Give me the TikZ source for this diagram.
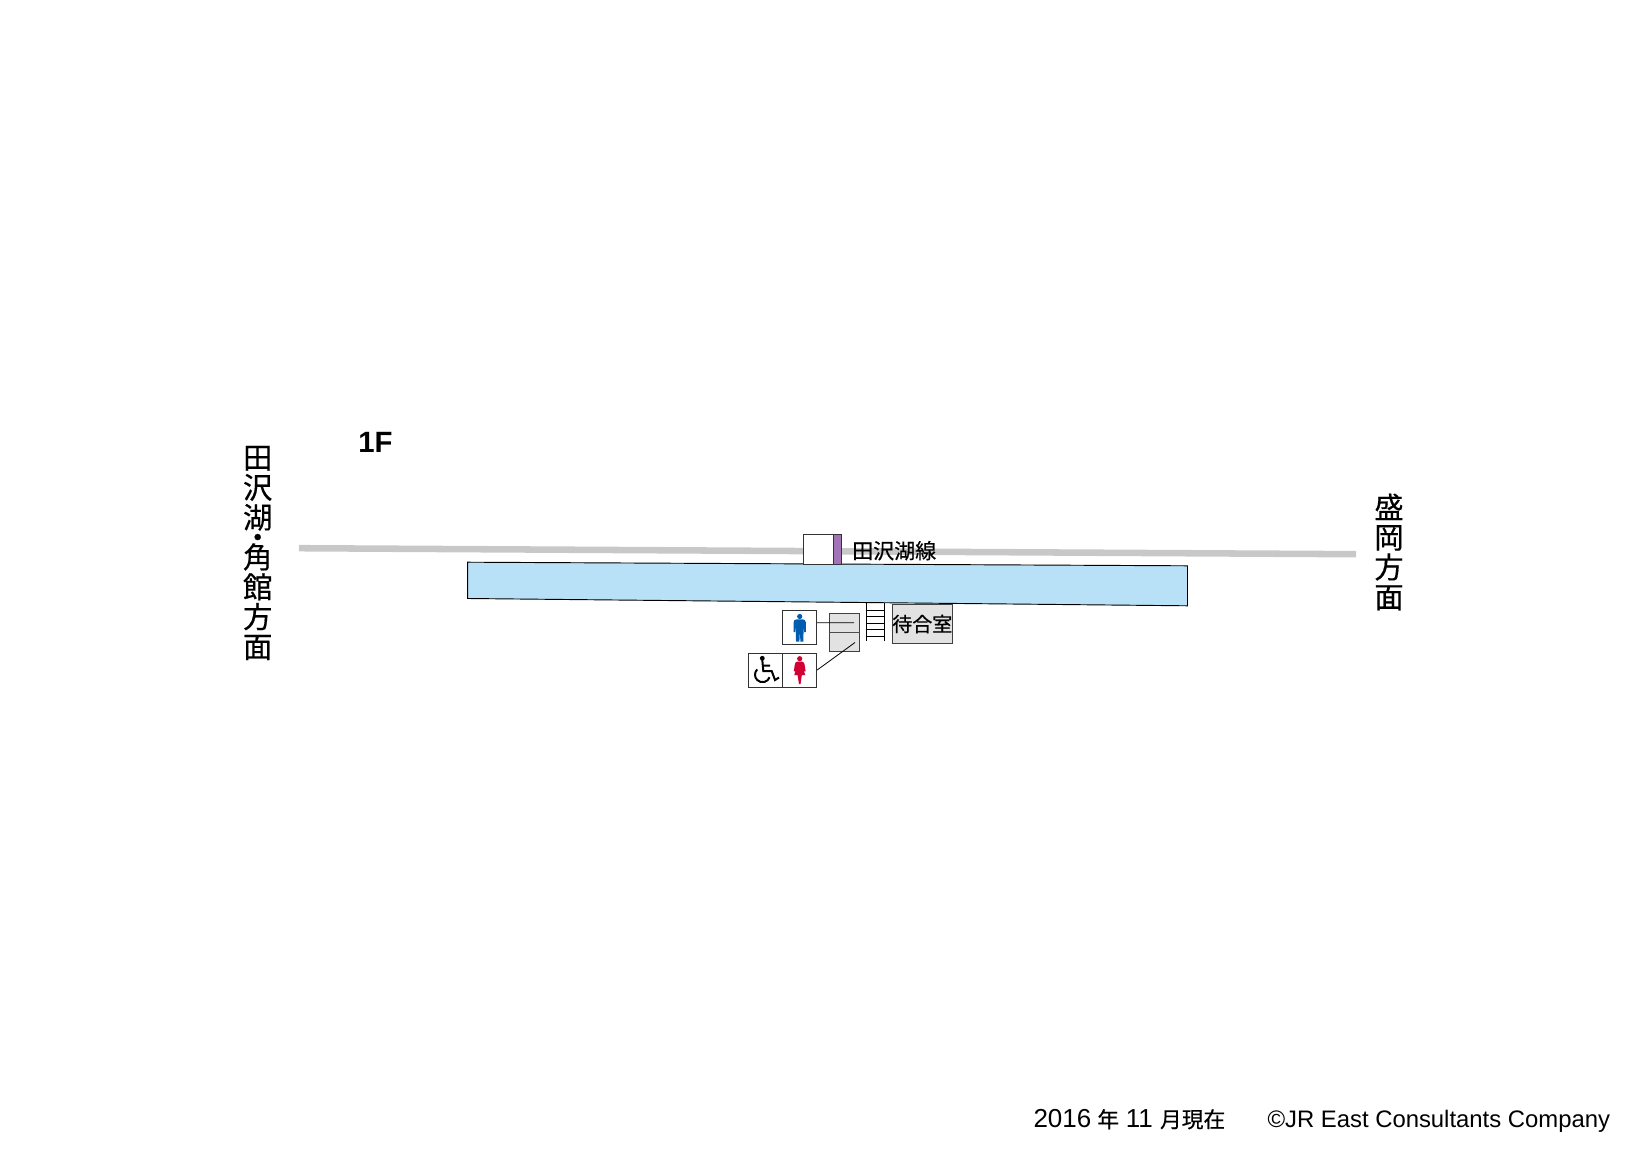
\documentclass[tikz,border=0pt]{standalone}
\usepackage{fontspec}
\setmainfont{Liberation Sans}
\newfontfamily\jpfont[FakeBold=0.5]{Noto Sans CJK JP}
\definecolor{trackgray}{RGB}{200,200,200}
\definecolor{platblue}{RGB}{184,225,247}
\definecolor{roomgray}{RGB}{226,226,226}
\definecolor{gatepurple}{RGB}{160,116,182}
\definecolor{menblue}{RGB}{0,92,175}
\definecolor{womenred}{RGB}{208,0,50}
\AtBeginDocument{\setlength{\lineskiplimit}{-20pt}}
\tikzset{every picture/.style={line width=0.75pt}}
\tikzset{
  roombox/.style={draw=black!75,fill=roomgray,line width=0.6pt},
  iconbox/.style={draw=black!80,fill=white,line width=0.7pt},
  leader/.style={draw=black,line width=0.6pt},
  jptext/.style={inner sep=0pt,font=\jpfont\fontsize{15}{16}\selectfont},
  dirtext/.style={inner sep=0pt,align=center,font=\jpfont\fontsize{22}{22.4}\selectfont},
  foottext/.style={inner sep=0pt,anchor=base west,font=\fontsize{17.9}{20}\selectfont},
}
\begin{document}
\begin{tikzpicture}[x=0.75pt,y=0.75pt,yscale=-1,xscale=1]
\useasboundingbox (0,0) rectangle (1642,1162);

%track
\draw [trackgray,line width=4.9pt] (299,548.2) -- (1356,554.2) ;
%platform
\draw [draw=black,fill=platblue,line width=0.7pt] (467.7,562.2) -- (1187.5,565.8) -- (1187.5,605.8) -- (467.7,598.5) -- cycle ;
%gate
\draw [draw=black!80,fill=white,line width=0.6pt] (803.3,534) rectangle (833,564) ;
\draw [draw=black!80,fill=gatepurple,line width=0.6pt] (833,534) rectangle (841,564) ;
%stairs
\draw [leader] (866.7,603) -- (866.7,641) (884,603) -- (884,641) ;
\foreach \y in {610,616.5,623,629.5,636} {
  \draw [leader] (866.7,\y) -- (884,\y) ;
}
%waiting room
\node (room) [roombox,minimum width=45pt,minimum height=29pt,inner sep=0pt] at (922.3,624) {};
\node (roomlabel) [jptext] at (922.3,624) {待合室};
%toilet
\node (toilet) [roombox,minimum width=22.5pt,minimum height=29pt,inner sep=0pt] at (844.3,632.3) {};
\draw [black!70,line width=0.8pt] (toilet.west) -- (toilet.east) ;
\coordinate (menend) at (854,622.8);
\coordinate (womenend) at (855,642.5);
%icon boxes
\node (men) [iconbox,minimum size=25.5pt,inner sep=0pt] at (799.7,627.5) {};
\node (women) [iconbox,minimum size=25.5pt,inner sep=0pt] at (799.7,670) {};
\node (wheel) [iconbox,minimum size=25.5pt,inner sep=0pt] at (765.7,670) {};
\draw [leader] (men.east) ++(0,-4.7) -- (menend) ;
\draw [leader] (women.east) -- (womenend) ;
%men icon
\fill [menblue] (799.7,616.5) circle (2.6) ;
\fill [menblue] (793.5,622.5) .. controls (793.5,620.3) and (795,619.3) .. (797,619.3) -- (802.4,619.3) .. controls (804.4,619.3) and (805.9,620.3) .. (805.9,622.5) -- (805.9,632) -- (804.2,632) -- (803.6,624.5) -- (803.4,641.5) -- (800.4,641.5) -- (799.9,631.5) -- (799.4,641.5) -- (796,641.5) -- (795.8,624.5) -- (795.2,632) -- (793.5,632) -- cycle ;
%women icon
\fill [womenred] (799.7,658.7) circle (2.6) ;
\fill [womenred] (797.2,661.7) -- (802.2,661.7) .. controls (804,661.7) and (804.3,663.2) .. (804.6,664.7) -- (805.6,671.2) -- (804,671.5) -- (802.4,666.2) -- (805.2,675.2) -- (801.8,675.2) -- (800.5,684.2) -- (799,684.2) -- (797.6,675.2) -- (794.2,675.2) -- (797,666.2) -- (795.4,671.5) -- (793.8,671.2) -- (794.8,664.7) .. controls (795.1,663.2) and (795.4,661.7) .. (797.2,661.7) -- cycle ;
%wheelchair icon
\fill (762.3,658.3) circle (2.4) ;
\draw [line width=1.5pt] (762.3,660) -- (763.3,671) -- (771.7,671) -- (775,680) -- (779,677.5) (763,665.5) -- (770,665.5) ;
\draw [line width=1.5pt] (757.2,669.4) arc [start angle=225,end angle=20,x radius=7.5,y radius=7.5] ;

% Text Node
\node (line) [jptext,anchor=west,font=\jpfont\fontsize{15.75}{16}\selectfont] at (851.7,550.7) {田沢湖線};
\node (floor) [inner sep=0.75pt,font=\bfseries\fontsize{22}{22}\selectfont] at (375.5,442) {1F};
\node (west) [dirtext] at (257.7,553) {田\\沢\\湖\\[-7.5pt]・\\[-7.5pt]角\\館\\方\\面};
\node (east) [dirtext] at (1389,552) {盛\\岡\\方\\面};
\node (date) [foottext] at (1033,1127.5) {\fontsize{19.5}{20}\selectfont 2016\hspace{4.5pt}{\jpfont\fontsize{16.3}{20}\selectfont 年}\hspace{5pt}11\hspace{5.5pt}{\jpfont\fontsize{16.3}{20}\selectfont 月現在}};
\node (copy) [foottext] at (1267,1127.5) {©JR East Consultants Company};

\end{tikzpicture}
\end{document}
